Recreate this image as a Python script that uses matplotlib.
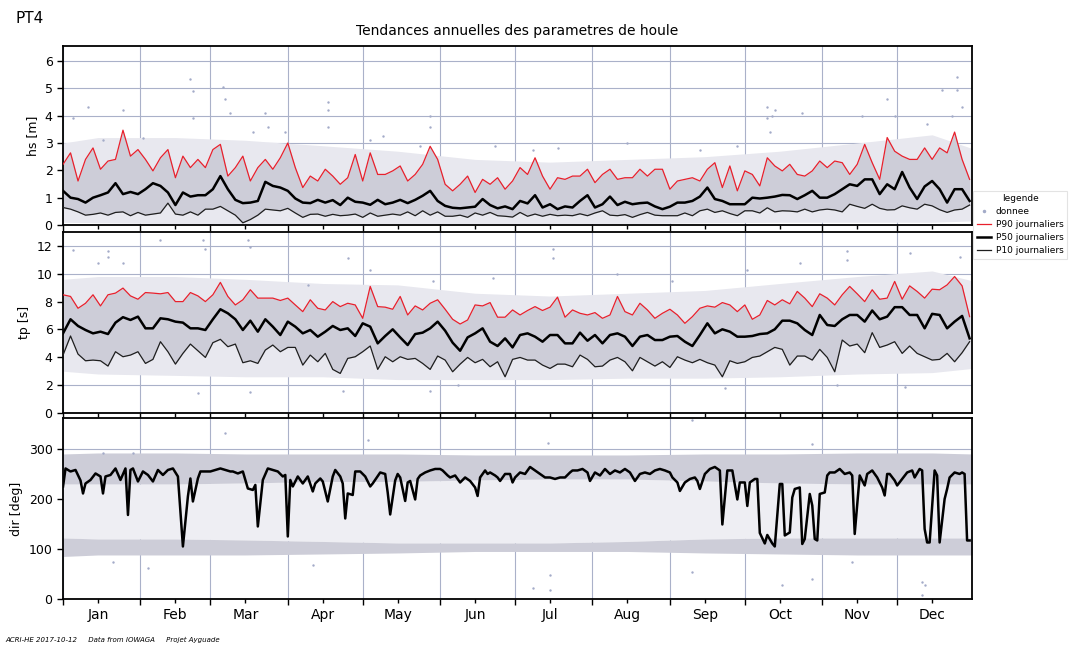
import matplotlib.pyplot as plt
from matplotlib.lines import Line2D
import numpy as np

# jours echantillonnes (tous les 3 jours, jour 0 = 1er janvier)
jours = np.arange(0, 364, 3)

# hauteur significative hs [m]
hs_p90 = [2.22, 2.64, 1.61, 2.4, 2.82, 2.04, 2.34, 2.4, 3.47, 2.52,
          2.76, 2.4, 1.98, 2.46, 2.76, 1.73, 2.52, 2.1, 2.4, 2.1,
          2.76, 2.95, 1.79, 2.1, 2.52, 1.61, 2.1, 2.4, 2.04, 2.46,
          3.0, 2.1, 1.37, 1.79, 1.61, 2.04, 1.79, 1.49, 1.73, 2.58,
          1.61, 2.64, 1.85, 1.85, 1.98, 2.16, 1.61, 1.85, 2.22, 2.88,
          2.4, 1.49, 1.25, 1.49, 1.79, 1.19, 1.67, 1.49, 1.73, 1.31,
          1.61,
          2.1, 1.85, 2.46, 1.79, 1.31, 1.73, 1.67, 1.79, 1.79, 2.04,
          1.55, 1.85, 2.04, 1.67, 1.73, 1.73, 2.04, 1.79, 2.04, 2.04,
          1.31, 1.61, 1.67, 1.73, 1.61, 2.04, 2.28, 1.37, 2.16, 1.25,
          1.98, 1.85, 1.43, 2.46, 2.16, 1.98, 2.22, 1.85, 1.79, 1.98,
          2.34, 2.1, 2.34, 2.28, 1.85, 2.22, 2.95, 2.28, 1.67, 3.2,
          2.7, 2.52, 2.4, 2.4, 2.82, 2.4, 2.82, 2.64, 3.4, 2.4,
          1.67]
hs_p50 = [1.25, 1.0, 0.95, 0.82, 1.0, 1.09, 1.19, 1.53, 1.13, 1.21,
          1.13, 1.31, 1.53, 1.43, 1.19, 0.73, 1.19, 1.04, 1.09, 1.09,
          1.31, 1.79, 1.31, 0.92, 0.8, 0.82, 0.88, 1.58, 1.43, 1.37,
          1.25, 0.97, 0.82, 0.8, 0.92, 0.82, 0.91, 0.73, 1.0, 0.85,
          0.82, 0.74, 0.92, 0.76, 0.82, 0.92, 0.8, 0.92, 1.07, 1.25,
          0.88, 0.7, 0.63, 0.61, 0.64, 0.67, 0.95, 0.73, 0.61, 0.68,
          0.58,
          0.88, 0.79, 1.09, 0.64, 0.76, 0.58, 0.68, 0.64, 0.88, 1.09,
          0.64, 0.76, 1.04, 0.73, 0.85, 0.76, 0.8, 0.82, 0.68, 0.58,
          0.67, 0.82, 0.82, 0.88, 1.04, 1.37, 0.95, 0.88, 0.76, 0.76,
          0.76, 1.0, 0.97, 1.0, 1.04, 1.1, 1.09, 0.95, 1.09, 1.25,
          1.0, 1.0, 1.13, 1.31, 1.49, 1.43, 1.67, 1.67, 1.13, 1.49,
          1.31, 1.94, 1.37, 0.95, 1.41, 1.61, 1.31, 0.82, 1.31, 1.31,
          0.88]
hs_p10 = [0.64, 0.58, 0.48, 0.36, 0.39, 0.44, 0.36, 0.46, 0.48, 0.34,
          0.46, 0.36, 0.4, 0.44, 0.8, 0.4, 0.36, 0.48, 0.36, 0.58,
          0.58, 0.68, 0.52, 0.36, 0.08, 0.2, 0.36, 0.58, 0.55, 0.52,
          0.61, 0.44, 0.28, 0.39, 0.4, 0.32, 0.39, 0.34, 0.36, 0.4,
          0.28, 0.44, 0.32, 0.36, 0.4, 0.36, 0.48, 0.34, 0.52, 0.36,
          0.48, 0.32, 0.32, 0.36, 0.28, 0.44, 0.36, 0.46, 0.34, 0.32,
          0.29,
          0.46, 0.32, 0.4, 0.32, 0.39, 0.34, 0.36, 0.34, 0.41, 0.34,
          0.44, 0.52, 0.36, 0.34, 0.38, 0.28, 0.38, 0.46, 0.36, 0.34,
          0.34, 0.34, 0.44, 0.34, 0.52, 0.58, 0.46, 0.52, 0.42, 0.34,
          0.52, 0.52, 0.44, 0.63, 0.48, 0.52, 0.51, 0.48, 0.58, 0.48,
          0.55, 0.58, 0.55, 0.48, 0.76, 0.68, 0.61, 0.76, 0.61, 0.55,
          0.56, 0.7, 0.63, 0.58, 0.76, 0.7, 0.56, 0.46, 0.55, 0.58,
          0.73]

# periode pic tp [s]
tp_p90 = [8.49, 8.37, 7.52, 7.88, 8.49, 7.69, 8.49, 8.61, 8.97, 8.41,
          8.17, 8.65, 8.61, 8.56, 8.65, 8.0, 8.0, 8.65, 8.41, 8.0,
          8.49, 9.38, 8.37, 7.76, 8.13, 8.85, 8.25, 8.25, 8.25, 8.08,
          8.25, 7.76, 7.28, 8.13, 7.52, 7.4, 8.0, 7.64, 7.88, 7.76,
          6.8, 9.09, 7.64, 7.6, 7.45,
          8.37, 7.04, 7.69, 7.4, 7.88, 8.13, 7.45, 6.73, 6.39, 6.68,
          7.76, 7.69, 7.93, 6.88, 6.88, 7.4, 7.04, 7.36, 7.64, 7.36,
          7.6, 8.32, 6.88, 7.4, 7.16, 7.04, 7.21, 6.8, 7.04, 8.37,
          7.28, 7.04, 7.88, 7.4, 6.8, 7.16, 7.45, 7.04, 6.44, 6.92,
          7.52, 7.69, 7.6, 7.93, 7.76, 7.28, 7.76, 6.73, 7.04, 8.08,
          7.76,
          8.13, 7.84, 8.73, 8.25, 7.64, 8.56, 8.25, 7.76, 8.49, 9.09,
          8.56, 8.0, 8.85, 8.17, 8.25, 9.45, 8.17, 9.13, 8.73, 8.25,
          8.89, 8.85, 9.2, 9.8, 9.13, 6.92]
tp_p50 = [5.72, 6.73, 6.25, 5.96, 5.72, 5.84, 5.67, 6.49, 6.88, 6.68,
          6.92, 6.08, 6.08, 6.8, 6.73, 6.56, 6.49, 6.08, 6.08, 5.96,
          6.73, 7.45, 7.16, 6.73, 5.96, 6.63, 5.84, 6.73, 6.2, 5.6,
          6.56, 6.2, 5.72, 5.96, 5.48, 5.84, 6.25, 5.96, 6.08, 5.53,
          6.44, 6.2, 5.0, 5.53, 6.01,
          5.43, 4.88, 5.67, 5.77, 6.08, 6.56, 5.91, 5.05, 4.47, 5.43,
          5.72, 6.08, 5.12, 4.81, 5.36, 4.71, 5.6, 5.72, 5.48, 5.12,
          5.6, 5.6, 5.0, 5.0, 5.77, 5.19, 5.6, 5.0, 5.6, 5.72,
          5.48, 4.81, 5.48, 5.6, 5.24, 5.24, 5.48, 5.53, 5.12, 4.81,
          5.6, 6.44, 5.72, 6.01, 5.84, 5.48, 5.48, 5.53, 5.67, 5.72,
          6.01,
          6.63, 6.63, 6.44, 5.96, 5.6, 7.04, 6.32, 6.25, 6.73, 7.04,
          7.04, 6.56, 7.36, 6.73, 6.92, 7.6, 7.6, 7.04, 7.04, 6.08,
          7.12, 7.04, 6.08, 6.56, 6.97, 5.36]
tp_p10 = [4.16, 5.53, 4.23, 3.75, 3.8, 3.75, 3.37, 4.4, 4.04, 4.16,
          4.4, 3.56, 3.85, 5.12, 4.4, 3.51, 4.28, 4.95, 4.47, 3.99,
          5.05, 5.29, 4.76, 4.95, 3.61, 3.75, 3.56, 4.52, 4.88, 4.4,
          4.71, 4.71, 3.44, 4.16, 3.68, 4.28, 3.13, 2.84, 3.92, 4.04,
          4.4, 4.81, 3.13, 4.04, 3.68,
          4.04, 3.85, 3.92, 3.56, 3.13, 4.09, 3.8, 2.96, 3.51, 3.99,
          3.61, 3.85, 3.32, 3.68, 2.6, 3.85, 3.99, 3.8, 3.8, 3.44,
          3.2, 3.51, 3.51, 3.32, 4.16, 3.85, 3.32, 3.37, 3.8, 3.99,
          3.68, 3.03, 3.99, 3.68, 3.37, 3.68, 3.27, 4.04, 3.8, 3.61,
          3.85, 3.61, 3.44, 2.6, 3.75, 3.56, 3.68, 3.99, 4.09, 4.4,
          4.71,
          4.57, 3.44, 4.09, 4.09, 3.8, 4.57, 3.99, 2.96, 5.24, 4.81,
          4.95, 4.33, 5.77, 4.71, 4.88, 5.12, 4.28, 4.81, 4.28, 4.04,
          3.8, 3.85, 4.28, 3.68, 4.33, 5.12]

# direction P50 [deg] (jour, valeur)
dir_jours = [0, 1, 3, 5, 7, 8, 9, 11, 13, 15, 16, 17, 19, 21, 23, 25, 26, 27, 28, 30,
             32, 34, 36, 38, 40, 42, 44, 46, 48, 50, 51, 52, 54, 55, 57, 59, 61, 63, 65, 67,
             68, 70, 72, 74, 76, 77, 78, 80, 82, 84, 86, 88, 89, 90, 91, 92, 94, 96, 98, 100,
             101, 103, 104, 106, 108, 109, 111, 112, 113, 114, 116, 117, 119, 121, 123, 124, 127, 129, 130, 131,
             133, 134, 135, 137, 138, 139, 141, 142, 143, 145, 147, 149, 151, 152, 154, 155, 157, 159, 161, 163,
             165, 166, 167, 169, 170, 171, 173, 174, 175, 177, 179, 180, 181, 183, 185, 187, 189, 191, 193, 195,
             197, 199, 201, 203, 204, 206, 208, 210, 211, 213, 215, 217, 219, 221, 223, 225, 227, 229, 231, 233,
             235, 237, 239, 241, 243, 244, 246, 247, 249, 251, 253, 254, 255, 257, 259, 261, 263, 264, 266, 268,
             270, 271, 273, 274, 275, 277, 278, 279, 281, 282, 284, 285, 287, 288, 289, 291, 292, 293, 295, 296,
             297, 299, 300, 301, 302, 303, 305, 306, 307, 309, 311, 313, 315, 316, 317, 319, 321, 322, 324, 326,
             328, 329, 330, 331, 333, 334, 336, 338, 340, 341, 343, 344, 345, 346, 347, 349, 350, 351, 353, 354,
             355, 357, 359, 360, 361, 362, 363]
dir_p50 = [225, 261, 255, 258, 237, 211, 231, 238, 251, 245, 211, 245, 248, 261, 238, 261, 168, 258, 261, 235,
           255, 248, 235, 258, 248, 258, 261, 245, 105, 205, 241, 195, 241, 255, 255, 255, 258, 261, 258, 255,
           255, 251, 255, 221, 218, 228, 145, 238, 261, 258, 255, 245, 248, 125, 238, 225, 245, 231, 245, 215,
           231, 241, 235, 195, 245, 258, 245, 231, 161, 211, 208, 255, 255, 245, 225, 231, 253, 250, 213, 169,
           237, 250, 243, 196, 233, 236, 199, 240, 247, 253, 257, 260, 260, 257, 247, 243, 247, 233, 243, 236,
           223, 206, 243, 257, 250, 253, 247, 243, 236, 250, 250, 233, 243, 253, 250, 264, 257, 250, 243, 243,
           240, 243, 243, 253, 257, 257, 260, 253, 236, 253, 247, 260, 250, 257, 253, 260, 253, 236, 250, 253,
           250, 257, 260, 257, 253, 243, 233, 216, 233, 240, 243, 236, 220, 250, 260, 264, 257, 149, 257, 257,
           199, 233, 233, 186, 233, 240, 240, 132, 111, 128, 111, 105, 230, 230, 127, 133, 203, 220, 223, 110,
           120, 210, 187, 120, 117, 210, 213, 247, 253, 253, 260, 250, 253, 247, 130, 247, 227, 250, 257, 243,
           223, 207, 250, 250, 237, 227, 240, 253, 257, 243, 260, 257, 140, 113, 113, 257, 247, 113, 200, 220,
           243, 253, 250, 253, 250, 117, 117]

# enveloppe du nuage de donnees (mi-mois)
env_jours = [0, 14, 45, 73, 104, 134, 165, 195, 226, 257, 287, 318, 348, 364]
hs_env_bas = [0.1, 0.08, 0.05, 0.05, 0.05, 0.05, 0.05, 0.05, 0.05, 0.08, 0.1, 0.1, 0.1, 0.15]
hs_env_haut = [3.0, 3.2, 3.2, 3.1, 2.9, 2.7, 2.4, 2.3, 2.4, 2.5, 2.7, 3.0, 3.3, 2.8]
tp_env_bas = [3.0, 2.8, 2.7, 2.6, 2.6, 2.4, 2.4, 2.4, 2.5, 2.5, 2.6, 2.8, 2.9, 3.2]
tp_env_haut = [9.6, 9.8, 9.8, 9.6, 9.3, 9.2, 8.6, 8.4, 8.6, 8.8, 9.3, 9.8, 10.2, 9.5]
dir_houle_bas = [230, 230, 230, 232, 235, 235, 238, 240, 240, 236, 232, 230, 230, 230]
dir_houle_haut = [290, 292, 292, 290, 290, 290, 288, 288, 288, 290, 290, 292, 292, 290]
dir_est_bas = [85, 88, 88, 88, 90, 92, 95, 95, 95, 92, 90, 88, 88, 88]
dir_est_haut = [122, 120, 120, 118, 115, 112, 112, 112, 115, 120, 122, 122, 122, 122]

# points isoles (jour, valeur)
hs_iso_j = [4, 10, 24, 16, 32, 51, 52, 52, 64, 65, 67, 81, 82, 106, 106, 106, 89, 76, 123, 128,
            147, 147, 143, 173, 188, 198, 226, 255, 270, 282, 282, 283, 285, 284, 296, 320, 330, 333,
            346, 352, 358, 358, 356, 360]
hs_iso_v = [3.9, 4.3, 4.2, 3.1, 3.2, 5.35, 4.9, 3.9, 5.05, 4.6, 4.1, 4.1, 3.6, 4.5, 4.2, 3.6, 3.4, 3.4, 3.1, 3.25,
            4.0, 3.6, 2.9, 2.9, 2.75, 2.8, 3.0, 2.75, 2.9, 4.3, 3.9, 3.4, 4.2, 4.0, 4.1, 4.0, 4.6, 4.0,
            3.7, 4.95, 5.4, 4.95, 4.0, 4.3]
tp_iso_j = [4, 18, 18, 39, 56, 57, 74, 75, 114, 54, 75, 112, 14, 24, 98, 123,
            196, 196, 222, 148, 172, 244, 274, 265, 147, 158, 314, 314, 295, 339, 359, 310, 337]
tp_iso_v = [11.7, 11.6, 11.2, 12.4, 12.4, 11.8, 12.4, 11.9, 11.1, 1.4, 1.5, 1.6, 10.8, 10.8, 9.2, 10.3,
            11.8, 11.1, 10.0, 9.5, 9.7, 9.5, 10.3, 1.8, 1.6, 2.0, 11.6, 11.0, 10.8, 11.5, 11.2, 2.0, 1.85]
dir_iso_j = [65, 122, 34, 100, 20, 16, 28, 195, 188, 195, 252, 252, 194, 300, 288, 344, 344, 345, 300, 316]
dir_iso_v = [332, 318, 62, 68, 74, 292, 292, 48, 22, 18, 358, 54, 312, 310, 27, 33, 7, 27, 40, 73]

mois_debut = [0, 31, 59, 90, 120, 151, 181, 212, 243, 273, 304, 334]
mois_noms = ['Jan', 'Feb', 'Mar', 'Apr', 'May', 'Jun', 'Jul', 'Aug', 'Sep', 'Oct', 'Nov', 'Dec']

c_leger = '#e8e8ef'
c_milieu = '#eeeef3'
c_nuage = '#cdcdd8'
c_point = '#a3abc8'
c_rouge = '#e8202c'
c_grille = '#aab1c9'

fig = plt.figure(figsize=(10.72, 6.46), dpi=100)
ax1 = fig.add_axes([0.0588, 0.6517, 0.848, 0.2771])
ax2 = fig.add_axes([0.0588, 0.3607, 0.848, 0.2802])
ax3 = fig.add_axes([0.0588, 0.0728, 0.848, 0.2802])

for ax, lo, hi, p10, p50, p90, ij, iv in [
        (ax1, hs_env_bas, hs_env_haut, hs_p10, hs_p50, hs_p90, hs_iso_j, hs_iso_v),
        (ax2, tp_env_bas, tp_env_haut, tp_p10, tp_p50, tp_p90, tp_iso_j, tp_iso_v)]:
    ax.fill_between(env_jours, lo, hi, color=c_leger, lw=0, zorder=1)
    ax.fill_between(jours, p10, p90, color=c_nuage, lw=0, zorder=1)
    ax.scatter(ij, iv, s=3, color=c_point, lw=0, zorder=2)
    ax.plot(jours, p90, color=c_rouge, lw=0.9, zorder=3)
    ax.plot(jours, p50, color='black', lw=1.8, zorder=3)
    ax.plot(jours, p10, color='#1e1e1e', lw=0.9, zorder=3)

ax3.fill_between(env_jours, dir_est_haut, dir_houle_bas, color=c_milieu, lw=0, zorder=1)
ax3.fill_between(env_jours, dir_houle_bas, dir_houle_haut, color=c_nuage, lw=0, zorder=1)
ax3.fill_between(env_jours, dir_est_bas, dir_est_haut, color=c_nuage, lw=0, zorder=1)
ax3.scatter(dir_iso_j, dir_iso_v, s=3, color=c_point, lw=0, zorder=2)
ax3.plot(dir_jours, dir_p50, color='black', lw=1.8, zorder=3)

ax1.set_ylim(0, 6.55)
ax1.set_yticks([0, 1, 2, 3, 4, 5, 6])
ax2.set_ylim(0, 13)
ax2.set_yticks([0, 2, 4, 6, 8, 10, 12])
ax3.set_ylim(0, 362)
ax3.set_yticks([0, 100, 200, 300])

ax1.set_ylabel('hs [m]', fontsize=9)
ax2.set_ylabel('tp [s]', fontsize=9)
ax3.set_ylabel('dir [deg]', fontsize=9)

for ax in [ax1, ax2, ax3]:
    ax.set_xlim(0, 364)
    ax.set_xticks(mois_debut)
    ax.set_xticks([m + 14 for m in mois_debut], minor=True)
    ax.set_xticklabels([])
    ax.grid(True, which='major', color=c_grille, lw=0.8, zorder=0)
    ax.set_axisbelow(True)
    ax.tick_params(labelsize=9, length=4, width=1)
    ax.tick_params(which='minor', length=3, width=1)
    for s in ax.spines.values():
        s.set_linewidth(1.3)

ax3.set_xticklabels(mois_noms, minor=True)

ax1.set_title('Tendances annuelles des parametres de houle', fontsize=10, pad=8)
fig.text(0.014, 0.965, 'PT4', fontsize=11)
fig.text(0.005, 0.006, 'ACRI-HE 2017-10-12     Data from IOWAGA     Projet Ayguade',
         fontsize=5, style='italic')

poignees = [Line2D([], [], ls='none', marker='.', ms=3, color=c_point),
            Line2D([], [], color=c_rouge, lw=0.9),
            Line2D([], [], color='black', lw=1.8),
            Line2D([], [], color='#1e1e1e', lw=0.9)]
leg = fig.legend(poignees, ['donnee', 'P90 journaliers', 'P50 journaliers', 'P10 journaliers'],
                 loc='upper left', bbox_to_anchor=(0.908, 0.705), title='legende',
                 fontsize=6.5, title_fontsize=6.5, frameon=True, fancybox=False,
                 handlelength=1.6, handletextpad=0.5, borderpad=0.4, labelspacing=0.45,
                 borderaxespad=0)
leg.get_frame().set_edgecolor('#dddddd')
leg.get_frame().set_linewidth(0.8)

fig.savefig('out.png', dpi=100)
